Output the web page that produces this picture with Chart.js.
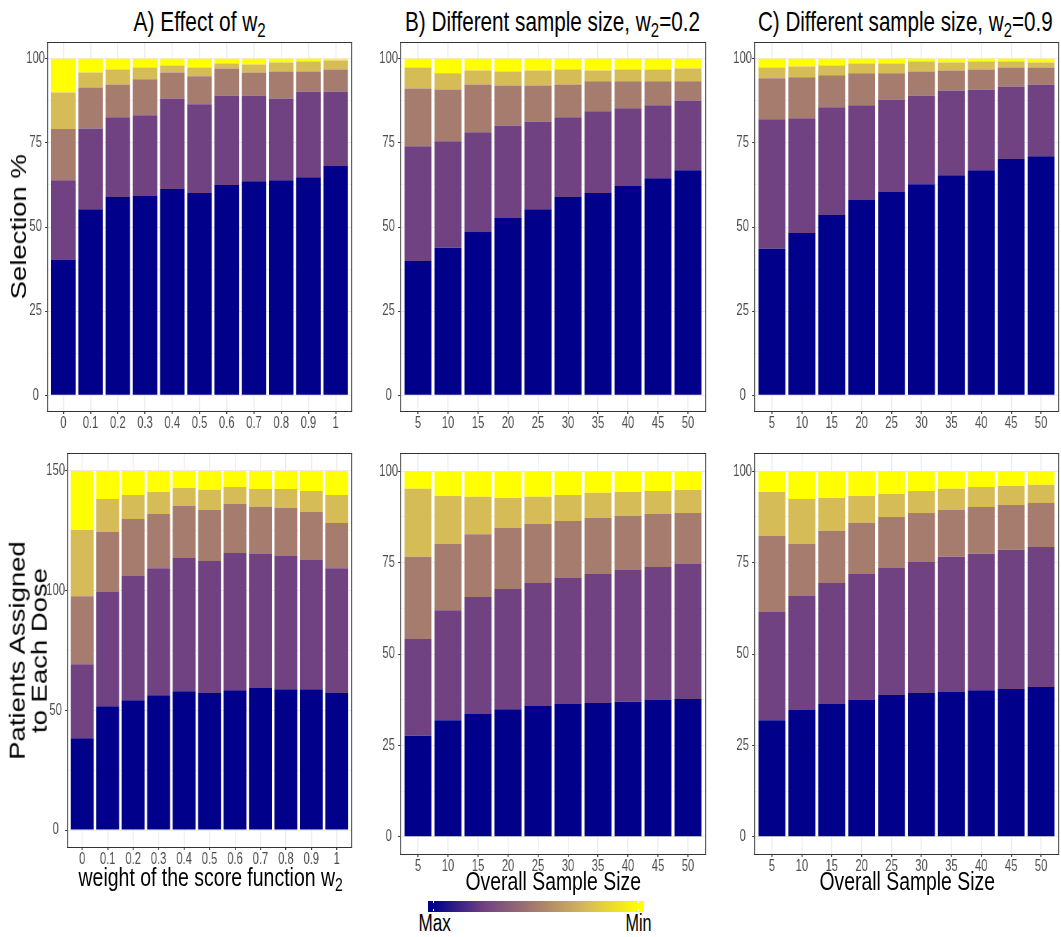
<!DOCTYPE html>
<html>
<head>
<meta charset="utf-8">
<script src="https://cdn.jsdelivr.net/npm/chart.js@4.4.1/dist/chart.umd.min.js"></script>
<style>
  html, body { margin: 0; padding: 0; background: #fff; }
  #page { position: relative; width: 1061px; height: 937px; overflow: hidden; background: #fff; }
  #page canvas { position: absolute; }
  .lbl { position: absolute; white-space: nowrap; line-height: 1; color: #000; transform-origin: 50% 50%; }
  .lbl sub { font-size: 0.72em; vertical-align: baseline; position: relative; top: 0.3em; line-height: 0; }
  .bar { position: absolute; }
  .tick { position: absolute; background: #fff; width: 1px; }
</style>
</head>
<body>
<div id="page"></div>
<script>
// ---- categories ----
const weightLabels = ['0', '0.1', '0.2', '0.3', '0.4', '0.5', '0.6', '0.7', '0.8', '0.9', '1'];
const sizeLabels = ['5', '10', '15', '20', '25', '30', '35', '40', '45', '50'];

// dose ranks, ordered from the best dose (Max) to the worst (Min)
const rankNames = ['Rank 1 (Max)', 'Rank 2', 'Rank 3', 'Rank 4', 'Rank 5 (Min)'];
const rankColors = ['#00008B', '#714281', '#A67C6E', '#D5BC56', '#FFFF00'];

// ---- selection % (one row per rank) ----
const selectionByWeight = [
  [40.2, 55.3, 58.9, 59.2, 61.3, 60.1, 62.5, 63.6, 63.9, 64.8, 68.1],
  [23.7, 24.0, 23.7, 24.0, 26.9, 26.4, 26.6, 25.5, 24.3, 25.5, 22.2],
  [15.2, 12.2, 9.8, 10.7, 7.7, 8.3, 8.0, 6.8, 8.0, 5.9, 6.5],
  [10.9, 4.4, 4.4, 3.5, 2.1, 2.6, 1.5, 2.4, 2.7, 3.0, 2.7],
  [10.0, 4.1, 3.2, 2.6, 2.0, 2.6, 1.4, 1.7, 1.1, 0.8, 0.5]
];
const selectionW02 = [
  [39.9, 43.8, 48.5, 52.7, 55.3, 58.9, 60.1, 62.2, 64.5, 66.9],
  [34.1, 31.7, 29.7, 27.5, 26.1, 23.7, 24.3, 23.1, 21.7, 20.7],
  [17.2, 15.4, 14.2, 11.9, 10.7, 9.8, 8.9, 8.0, 7.1, 5.7],
  [6.2, 4.8, 4.1, 4.1, 4.4, 4.4, 3.2, 3.5, 3.5, 3.8],
  [2.6, 4.3, 3.5, 3.8, 3.5, 3.2, 3.5, 3.2, 3.2, 2.9]
];
const selectionW09 = [
  [43.5, 48.2, 53.6, 58.0, 60.4, 62.7, 65.4, 66.9, 70.2, 71.0],
  [38.5, 34.1, 32.0, 28.2, 27.5, 26.4, 25.2, 24.0, 21.6, 21.4],
  [12.2, 12.2, 9.5, 9.5, 7.8, 7.1, 5.9, 5.9, 5.6, 5.0],
  [3.2, 3.2, 2.9, 2.9, 2.9, 3.0, 2.4, 2.4, 1.8, 1.5],
  [2.6, 2.3, 2.0, 1.4, 1.4, 0.8, 1.1, 0.8, 0.8, 1.1]
];

// ---- patients assigned to each dose (one row per rank) ----
const patientsByWeight = [
  [38.3, 51.7, 54.2, 56.3, 58.0, 57.2, 58.4, 59.3, 58.8, 58.8, 57.2],
  [31.0, 47.7, 51.9, 53.1, 55.6, 55.2, 57.3, 56.0, 55.7, 54.0, 52.2],
  [28.4, 25.1, 23.8, 22.6, 21.8, 21.3, 20.5, 19.7, 20.0, 20.1, 18.9],
  [27.6, 13.8, 10.1, 9.2, 7.5, 8.4, 7.1, 7.5, 8.0, 8.7, 11.7],
  [24.7, 11.7, 10.0, 8.8, 7.1, 7.9, 6.7, 7.5, 7.5, 8.4, 10.0]
];
const patientsW02 = [
  [27.6, 31.9, 33.6, 34.9, 35.8, 36.3, 36.6, 36.9, 37.4, 37.7],
  [26.5, 30.1, 32.0, 32.9, 33.6, 34.5, 35.3, 36.1, 36.4, 36.9],
  [22.5, 18.1, 17.2, 16.7, 16.2, 15.6, 15.3, 14.8, 14.5, 14.0],
  [18.6, 13.1, 10.2, 8.2, 7.4, 7.1, 6.9, 6.5, 6.3, 6.3],
  [4.8, 6.8, 7.0, 7.3, 7.0, 6.5, 5.9, 5.7, 5.4, 5.1]
];
const patientsW09 = [
  [31.9, 34.7, 36.3, 37.4, 38.8, 39.3, 39.6, 40.1, 40.4, 41.0],
  [29.6, 31.2, 33.1, 34.5, 34.7, 35.9, 37.0, 37.3, 38.1, 38.3],
  [20.8, 14.2, 14.3, 14.0, 14.0, 13.4, 12.8, 12.8, 12.3, 12.0],
  [12.0, 12.3, 9.0, 7.3, 6.3, 6.0, 5.8, 5.5, 5.2, 5.0],
  [5.7, 7.6, 7.3, 6.8, 6.2, 5.4, 4.8, 4.3, 4.0, 3.7]
];

// ---- value axes: top tick and major step ----
const percentAxis = { top: 100, step: 25 };
const patientAxisWeight = { top: 150, step: 50 };
const patientAxisSize = { top: 100, step: 25 };

// ---- fonts ----
const SANS = "'Liberation Sans', Arial, Helvetica, sans-serif";

const page = document.getElementById('page');
const YW = 40;      // room for the value-axis labels (page px)
const XH = 26;      // room for the category labels (page px)
const SQUEEZE = 0.7; // the panels are drawn wide and shown horizontally condensed

function buildPanel(frame, labels, series, axis) {
  const [L, T, R, B] = frame;
  const Wp = YW + (R - L) + 1;          // shown width
  const H = 1 + (B - T) + XH;
  const Wb = Math.round(Wp / SQUEEZE);  // drawing width
  const sx = Wp / Wb;

  const cv = document.createElement('canvas');
  cv.width = Wb; cv.height = H;
  cv.style.left = (L - YW) + 'px';
  cv.style.top = (T - 1) + 'px';
  cv.style.width = Wp + 'px';
  cv.style.height = H + 'px';
  page.appendChild(cv);

  const n = labels.length;
  const pad = axis.top * 0.05;
  const half = axis.step / 2;
  const isMajor = v => Math.abs(v / axis.step - Math.round(v / axis.step)) < 1e-9;

  // full rectangle around the panel, one shown pixel wide on every side
  const panelFrame = {
    id: 'panelFrame',
    afterDraw(chart) {
      const { ctx, chartArea: a } = chart;
      ctx.save();
      ctx.strokeStyle = '#333333';
      ctx.lineWidth = 1;
      ctx.beginPath();
      ctx.moveTo(a.left, a.top + 0.5); ctx.lineTo(a.right, a.top + 0.5);
      ctx.moveTo(a.left, a.bottom - 0.5); ctx.lineTo(a.right, a.bottom - 0.5);
      ctx.stroke();
      ctx.lineWidth = 1 / sx;
      ctx.beginPath();
      ctx.moveTo(a.left + 0.5 / sx, a.top); ctx.lineTo(a.left + 0.5 / sx, a.bottom);
      ctx.moveTo(a.right - 0.5 / sx, a.top); ctx.lineTo(a.right - 0.5 / sx, a.bottom);
      ctx.stroke();
      ctx.restore();
    }
  };

  new Chart(cv, {
    type: 'bar',
    data: {
      datasets: series.map((vals, k) => ({
        label: rankNames[k],
        data: vals.map((v, i) => ({ x: i, y: v })),
        backgroundColor: rankColors[k],
        borderWidth: 0,
        barPercentage: 0.9,
        categoryPercentage: 1
      }))
    },
    options: {
      responsive: false,
      animation: false,
      devicePixelRatio: 1,
      events: [],
      layout: { padding: { top: 1, right: 1 / sx, left: 0, bottom: 0 } },
      plugins: { legend: { display: false }, tooltip: { enabled: false }, title: { display: false } },
      scales: {
        x: {
          type: 'linear',
          stacked: true,
          bounds: 'data',
          offset: false,
          min: -0.6,
          max: n - 0.4,
          afterBuildTicks: s => { s.ticks = labels.map((_, i) => ({ value: i })); },
          afterFit: s => { s.height = XH; s.paddingLeft = 0; s.paddingRight = 0; },
          border: { display: false },
          grid: { offset: false, color: '#EBEBEB', lineWidth: 1 / sx, tickLength: 2, tickColor: '#333333', drawTicks: true },
          ticks: {
            autoSkip: false, maxRotation: 0, padding: 0,
            color: '#4D4D4D',
            font: { family: SANS, size: 16 },
            callback: v => labels[v]
          }
        },
        y: {
          type: 'linear',
          stacked: true,
          bounds: 'data',
          min: -pad,
          max: axis.top + pad,
          afterBuildTicks: s => {
            const t = [];
            for (let v = 0; v <= axis.top + 1e-9; v += half) t.push({ value: v });
            s.ticks = t;
          },
          afterFit: s => { s.width = YW / sx; s.paddingTop = 0; s.paddingBottom = 0; },
          border: { display: false },
          grid: {
            color: c => (c.tick && isMajor(c.tick.value)) ? '#EBEBEB' : '#F4F4F4',
            lineWidth: 1,
            tickLength: 2 / sx,
            tickColor: c => (c.tick && isMajor(c.tick.value)) ? '#333333' : 'rgba(0,0,0,0)'
          },
          ticks: {
            crossAlign: 'center', padding: 0,
            color: '#4D4D4D',
            font: { family: SANS, size: 16 },
            callback: v => isMajor(v) ? String(v) : ''
          }
        }
      }
    },
    plugins: [panelFrame]
  });
}

// panel rectangles: left, top, right, bottom
buildPanel([47, 42, 352, 412], weightLabels, selectionByWeight, percentAxis);
buildPanel([400, 42, 706, 412], sizeLabels, selectionW02, percentAxis);
buildPanel([754, 42, 1059, 412], sizeLabels, selectionW09, percentAxis);
buildPanel([67, 453, 352, 848], weightLabels, patientsByWeight, patientAxisWeight);
buildPanel([400, 453, 706, 855], sizeLabels, patientsW02, patientAxisSize);
buildPanel([754, 453, 1059, 855], sizeLabels, patientsW09, patientAxisSize);

// ---- titles and axis titles ----
function placeText(t) {
  const el = document.createElement('div');
  el.className = 'lbl';
  el.innerHTML = t.html;
  el.style.fontFamily = SANS;
  el.style.fontSize = t.size + 'px';
  if (t.lineHeight) { el.style.lineHeight = t.lineHeight + 'px'; el.style.textAlign = 'center'; }
  page.appendChild(el);
  const w = el.offsetWidth, h = el.offsetHeight;
  const k = t.width / w;
  el.style.left = (t.cx - w / 2) + 'px';
  el.style.top = (t.cy - h / 2) + 'px';
  el.style.transform = t.rotate
    ? 'rotate(-90deg) scale(' + k + ',' + t.squash + ')'
    : 'scaleX(' + k + ')';
}

const textItems = [
  { html: 'A) Effect of w<sub>2</sub>', cx: 199.2, cy: 21.7, size: 28, width: 132 },
  { html: 'B) Different sample size, w<sub>2</sub>=0.2', cx: 552.5, cy: 21.7, size: 28, width: 295 },
  { html: 'C) Different sample size, w<sub>2</sub>=0.9', cx: 905.7, cy: 21.7, size: 28, width: 295 },
  { html: 'weight of the score function w<sub>2</sub>', cx: 210, cy: 877, size: 25, width: 264 },
  { html: 'Overall Sample Size', cx: 552.5, cy: 881, size: 25, width: 175 },
  { html: 'Overall Sample Size', cx: 906.7, cy: 881, size: 25, width: 175 },
  { html: 'Selection %', cx: 18, cy: 226.7, size: 27.5, width: 145, rotate: true, squash: 0.8 },
  { html: 'Patients Assigned<br>to Each Dose', cx: 28, cy: 650.5, size: 27.5, width: 219, rotate: true, squash: 0.8, lineHeight: 26.5 },
  { html: 'Max', cx: 434, cy: 923.3, size: 23, width: 32 },
  { html: 'Min', cx: 638, cy: 923.3, size: 23, width: 26 }
];
textItems.forEach(placeText);

// ---- colour bar legend ----
const bar = document.createElement('div');
bar.className = 'bar';
Object.assign(bar.style, {
  left: '428px', top: '901px', width: '216px', height: '11px',
  background: 'linear-gradient(to right, ' +
    rankColors[0] + ' 2.5%, ' + rankColors[1] + ' 26.25%, ' + rankColors[2] + ' 50%, ' +
    rankColors[3] + ' 73.75%, ' + rankColors[4] + ' 97.5%)'
});
page.appendChild(bar);
[433, 638].forEach(x => {
  [901, 909].forEach(y => {
    const tk = document.createElement('div');
    tk.className = 'tick';
    Object.assign(tk.style, { left: x + 'px', top: y + 'px', height: '2px' });
    page.appendChild(tk);
  });
});
</script>
</body>
</html>
